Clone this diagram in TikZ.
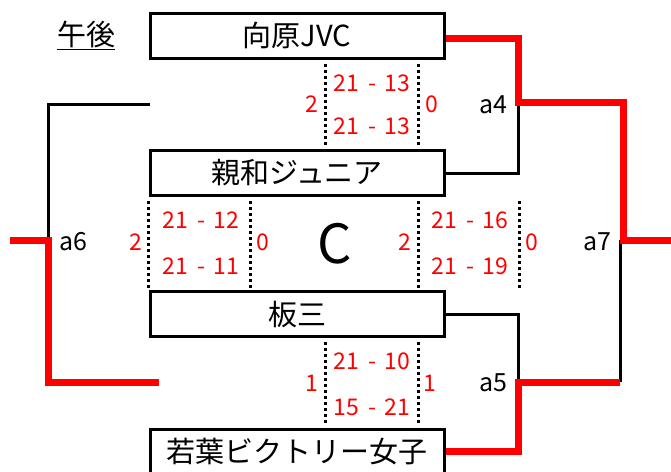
\documentclass[tikz,border=0pt]{standalone}
\usepackage{fontspec}
\setmainfont{Noto Sans CJK JP}
\usetikzlibrary{calc}
\newcommand{\gm}[2]{#1\hspace{9pt}-\hspace{9pt}#2}
\tikzset{
  team/.style={draw, line width=3pt, minimum width=294pt, minimum height=45pt, inner sep=0pt, font=\fontsize{29}{29}\selectfont},
  score/.style={text=red, inner sep=0pt, font=\fontsize{23}{23}\selectfont},
  lbl/.style={inner sep=0pt, font=\fontsize{25}{25}\selectfont},
  win/.style={red, line width=7pt},
  lose/.style={black, line width=3pt},
  dotline/.style={black, line width=3pt, dash pattern=on 3pt off 3pt, shorten <=4pt, shorten >=2pt},
}

\begin{document}
\begin{tikzpicture}[x=1pt,y=-1pt]
\useasboundingbox (0,0) rectangle (671,471);

\node (pm) at (86,35) {\fontsize{29}{29}\selectfont\underline{午後}};

\node[team] (b1) at (297,35.5) {向原JVC};
\node[team] (b2) at (297,173) {親和ジュニア};
\node[team] (b3) at (297,314) {板三};
\node[team] (b4) at (297,451.5) {若葉ビクトリー女子};

\node (c) at (335,244) {\fontsize{54}{54}\selectfont C};

% scores
\node[score] (s1a) at (372,83) {\gm{21}{13}};
\node[score] (s1b) at (372,126) {\gm{21}{13}};
\node[score] (s1l) at (312,104) {2};
\node[score] (s1r) at (432,104) {0};

\node[score] (s2a) at (201,220) {\gm{21}{12}};
\node[score] (s2b) at (201,266) {\gm{21}{11}};
\node[score] (s2l) at (136,242) {2};
\node[score] (s2r) at (263,242) {0};

\node[score] (s3a) at (470,220) {\gm{21}{16}};
\node[score] (s3b) at (470,266) {\gm{21}{19}};
\node[score] (s3l) at (405,242) {2};
\node[score] (s3r) at (532,242) {0};

\node[score] (s4a) at (372,361) {\gm{21}{10}};
\node[score] (s4b) at (372,407) {\gm{15}{21}};
\node[score] (s4l) at (312,383) {1};
\node[score] (s4r) at (430,383) {1};

\node[lbl] (a4) at (493,105) {a4};
\node[lbl] (a5) at (493,383) {a5};
\node[lbl] (a6) at (73,242) {a6};
\node[lbl] (a7) at (597,242) {a7};

% bracket points
\coordinate (j4) at (518,102);
\coordinate (j5) at (518,382);
\coordinate (j7t) at (623,102);
\coordinate (j7b) at (620,382);
\coordinate (j7) at (623,240);
\coordinate (out7) at (671,240);
\coordinate (top6) at (150,104);
\coordinate (j6t) at (48,104);
\coordinate (j6) at (48,240);
\coordinate (out6) at (10,240);
\coordinate (j6b) at (48,382);
\coordinate (end6) at (159,382);

\draw[lose] (b2.east) -| (j4);
\draw[lose] (b3.east) -| (j5);
\draw[lose] (j7b) -- (j7b |- j7);
\draw[lose] (top6) -- (j6t) -- (j6);

\draw[win] ([yshift=-3pt]b1.east) -| (j4) -- (j7t) -- (j7) -- (out7);
\draw[win] (b4.east) -| (j5) -- (j7b);
\draw[win] (out6) -- (j6) -- (j6b) -- (end6);

% dotted lines
\draw[dotline] ([xshift=28pt]b1.south) -- ([xshift=28pt]b2.north);
\draw[dotline] ([xshift=121pt]b1.south) -- ([xshift=121pt]b2.north);
\draw[dotline] (b2.south west) -- (b3.north west);
\draw[dotline] ([xshift=-47pt]b2.south) -- ([xshift=-47pt]b3.north);
\draw[dotline] ([xshift=121pt]b2.south) -- ([xshift=121pt]b3.north);
\draw[dotline] ([xshift=74pt]b2.south east) -- ([xshift=74pt]b3.north east);
\draw[dotline] ([xshift=28pt]b3.south) -- ([xshift=28pt]b4.north);
\draw[dotline] ([xshift=121pt]b3.south) -- ([xshift=121pt]b4.north);

\end{tikzpicture}
\end{document}
